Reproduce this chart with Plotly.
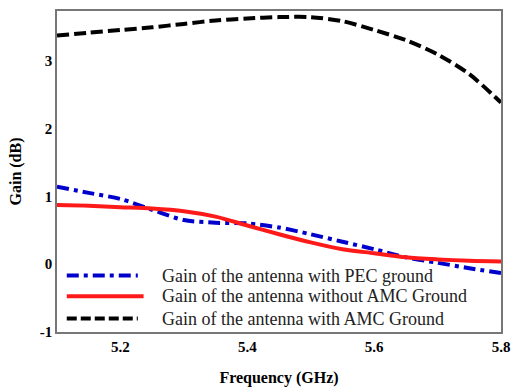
import plotly.graph_objects as go

freq = [5.10, 5.15, 5.20, 5.25, 5.30, 5.35, 5.40, 5.45, 5.50, 5.55, 5.60, 5.65, 5.70, 5.75, 5.80]
gain_pec = [1.14, 1.05, 0.96, 0.80, 0.65, 0.61, 0.60, 0.54, 0.44, 0.33, 0.22, 0.10, 0.02, -0.06, -0.13]
gain_no_amc = [0.87, 0.86, 0.84, 0.82, 0.78, 0.70, 0.57, 0.44, 0.32, 0.22, 0.16, 0.10, 0.07, 0.05, 0.04]
gain_amc = [3.37, 3.41, 3.45, 3.49, 3.54, 3.59, 3.62, 3.64, 3.64, 3.58, 3.45, 3.30, 3.09, 2.80, 2.38]

names = ["Gain of the antenna with PEC ground",
         "Gain of the antenna without AMC Ground",
         "Gain of the antenna with AMC Ground"]
xticks = [5.2, 5.4, 5.6, 5.8]
yticks = [-1, 0, 1, 2, 3]

colors = ["#0000cc", "#ff1a1a", "#000000"]
dashes = ["12px,5px,4px,5px", "solid", "12px,5px"]
series = [gain_pec, gain_no_amc, gain_amc]

fig = go.Figure()
for name, ys, c, d in zip(names, series, colors, dashes):
    fig.add_trace(go.Scatter(x=freq, y=ys, mode="lines", name=name, showlegend=False,
                             line=dict(color=c, width=4, dash=d, shape="spline", smoothing=0.8)))

font = "Liberation Serif, Times New Roman, serif"

# manual legend (inside plot, bottom-left)
leg_y = [0.176, 0.111, 0.042]
leg_x1 = [0.182, 0.195, 0.182]
leg_dash = ["12px,5px,4px,5px", "solid", "10px,4px"]
for name, c, d, yy, x1 in zip(names, colors, leg_dash, leg_y, leg_x1):
    fig.add_shape(type="line", xref="paper", yref="paper", x0=0.022, x1=x1, y0=yy, y1=yy,
                  line=dict(color=c, width=4, dash=d))
    fig.add_annotation(xref="paper", yref="paper", x=0.233, y=yy, text=name, showarrow=False,
                       xanchor="left", yanchor="middle",
                       font=dict(family=font, size=18, color="#222"))

fig.update_layout(
    width=518, height=392,
    margin=dict(l=57, r=8, t=11, b=57),
    paper_bgcolor="white", plot_bgcolor="white",
    font=dict(family=font, color="black"),
    showlegend=False,
    xaxis=dict(range=[5.1, 5.8], tickvals=xticks, ticktext=[f"<b>{v}</b>" for v in xticks],
               showgrid=False, zeroline=False, showline=True, linecolor="#777", linewidth=1.5,
               mirror=True, ticks="", tickfont=dict(size=15, family=font),
               title=dict(text="<b>Frequency (GHz)</b>", font=dict(size=16, family=font), standoff=18)),
    yaxis=dict(range=[-1, 3.73], tickvals=yticks, ticktext=[f"<b>{v}</b>" for v in yticks],
               showgrid=False, zeroline=False, showline=True, linecolor="#777", linewidth=1.5,
               mirror=True, ticks="", tickfont=dict(size=15, family=font),
               title=dict(text="<b>Gain (dB)</b>", font=dict(size=16, family=font), standoff=14)),
)
fig.write_html("out.html")
